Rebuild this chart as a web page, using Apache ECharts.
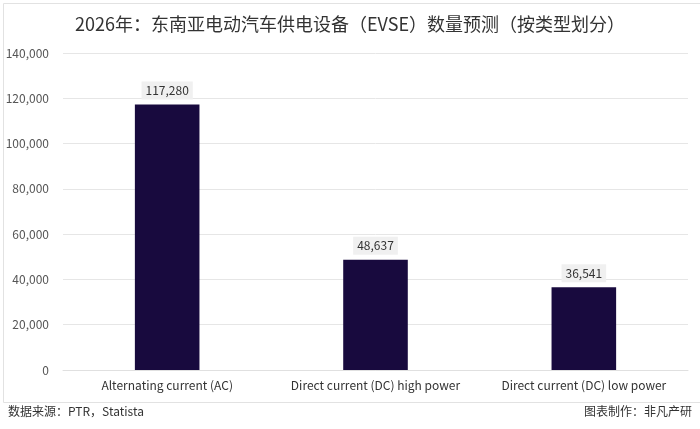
<!DOCTYPE html>
<html><head><meta charset="utf-8">
<script src="https://cdn.jsdelivr.net/npm/echarts@6/dist/echarts.min.js"></script>
<style>html,body{margin:0;padding:0;background:#fff}#c{width:700px;height:429px}</style>
</head><body><div id="c"></div>
<script>
const categories = ['Alternating current (AC)', 'Direct current (DC) high power', 'Direct current (DC) low power'];
const values = [117280, 48637, 36541];
const titleText = '2026年：东南亚电动汽车供电设备（EVSE）数量预测（按类型划分）';
const sourceText = '数据来源：PTR，Statista';
const creditText = '图表制作：非凡产研';

const chart = echarts.init(document.getElementById('c'), null, {renderer: 'canvas'});
const font = '"Noto Sans CJK SC", "Liberation Sans", sans-serif';
chart.setOption({
  backgroundColor: '#fff',
  animation: false,
  title: {text: titleText, left: 'center', top: 10,
    textStyle: {fontSize: 18, fontWeight: 'normal', color: '#333', fontFamily: font}},
  grid: {left: 63, right: 12, top: 53, bottom: 59, containLabel: false},
  xAxis: {type: 'category', data: categories,
    axisLine: {lineStyle: {color: '#e0e0e0'}}, axisTick: {show: false},
    axisLabel: {color: '#333', fontSize: 12, margin: 9, interval: 0, hideOverlap: false, fontFamily: font}},
  yAxis: {type: 'value', min: 0, max: 140000, interval: 20000,
    axisLine: {show: false}, axisTick: {show: false},
    splitLine: {lineStyle: {color: '#e6e6e6'}},
    axisLabel: {color: '#555', fontSize: 12, margin: 14, fontFamily: font,
      formatter: v => v.toLocaleString('en-US')}},
  series: [{type: 'bar', data: values, barWidth: '31%',
    itemStyle: {color: '#180a3e'},
    label: {show: true, position: 'top', distance: 5, color: '#333', fontSize: 12,
      fontFamily: font, backgroundColor: '#f0f0f0', padding: [3, 4],
      formatter: p => p.value.toLocaleString('en-US')}}],
  graphic: [
    {type: 'rect', left: 1, top: 1, shape: {width: 697, height: 399},
      style: {fill: 'none', stroke: '#e2e2e2', lineWidth: 1}, silent: true},
    {type: 'text', left: 8, top: 405, style: {text: sourceText, fill: '#333', font: '12px ' + font}},
    {type: 'text', right: 8, top: 405, style: {text: creditText, fill: '#333', font: '12px ' + font}}
  ]
});
</script></body></html>
